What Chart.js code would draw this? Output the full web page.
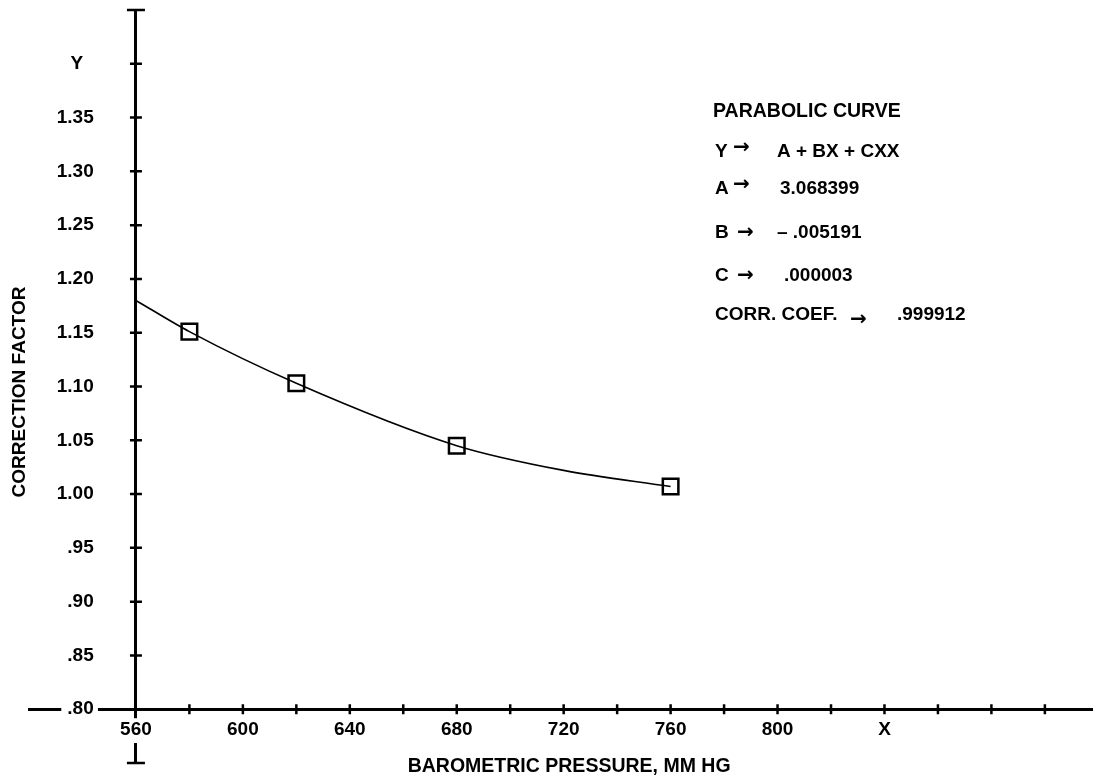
<!DOCTYPE html>
<html>
<head>
<meta charset="utf-8">
<script src="https://cdn.jsdelivr.net/npm/chart.js@4.4.1/dist/chart.umd.min.js"></script>
<style>
  html, body { margin: 0; padding: 0; background: #fff; overflow: hidden; }
  #wrap { width: 1093px; height: 777px; }
  canvas { display: block; }
</style>
</head>
<body>
<div id="wrap"><canvas id="chart" width="1093" height="777"></canvas></div>
<script>
// measured points (squares)
const pressure = [580, 620, 680, 760];
const factor = [1.151, 1.103, 1.045, 1.007];

// fitted curve
const curvePressure = [560, 580, 620, 680, 720, 760];
const curveFactor = [1.180, 1.151, 1.103, 1.045, 1.022, 1.007];

// axis ranges / ticks
const xMin = 520, xMax = 918, xStep = 20, xFirstTick = 560;
const yMin = 0.75, yMax = 1.45, yStep = 0.05;
const yAxisLabel = "CORRECTION FACTOR";
const xAxisLabel = "BAROMETRIC PRESSURE, MM HG";

// fit summary text
const fitKeys = ["Y", "A", "B", "C", "CORR. COEF."];
const fitValues = ["A + BX + CXX", "3.068399", "\u2013 .005191", ".000003", ".999912"];
const fitTitle = "PARABOLIC CURVE";

const FONT = '"Liberation Sans", Arial, sans-serif';
const GAP = "        "; // positioned y axis puts labels right on the line, push them left

function yLabel(v) {
  const c = Math.round(v * 100);
  if (c === 140) return "Y" + GAP + "  ";
  if (c < 80 || c > 135) return "";
  const s = (c / 100).toFixed(2);
  return (s.startsWith("0") ? s.slice(1) : s) + GAP;
}

function xLabel(v) {
  if (v < xFirstTick) return "";
  if (v === 840) return "X";
  if (v <= 800 && v % 40 === 0) return String(v);
  return "";
}

function noPadding(scale) {
  scale.paddingTop = 0;
  scale.paddingBottom = 0;
  scale.paddingLeft = 0;
  scale.paddingRight = 0;
}

// cross ticks, caps, y title and the fit text
const extras = {
  id: "extras",
  afterDraw(chart) {
    const ctx = chart.ctx;
    const xs = chart.scales.x, ys = chart.scales.y;
    const x0 = xs.getPixelForValue(xFirstTick);
    const y0 = ys.getPixelForValue(0.8);
    ctx.save();
    ctx.strokeStyle = "#000";
    ctx.lineWidth = 2.5;
    ctx.beginPath();
    ys.ticks.forEach(t => {
      const c = Math.round(t.value * 100);
      const py = ys.getPixelForValue(t.value);
      if (c === 75 || c === 145) {
        ctx.moveTo(x0 - 9, py); ctx.lineTo(x0 + 9, py);
      } else if (c !== 80) {
        ctx.moveTo(x0 - 6, py); ctx.lineTo(x0 + 6, py);
      }
    });
    xs.ticks.forEach(t => {
      if (t.value <= xFirstTick) return;
      const px = xs.getPixelForValue(t.value);
      ctx.moveTo(px, y0 - 5); ctx.lineTo(px, y0 + 5);
    });
    ctx.stroke();

    ctx.fillStyle = "#000";
    ctx.font = "bold 19px " + FONT;
    ctx.textBaseline = "middle";
    ctx.textAlign = "center";
    ctx.save();
    ctx.translate(20, 392);
    ctx.rotate(-Math.PI / 2);
    ctx.fillText(yAxisLabel, 0, 0);
    ctx.restore();

    ctx.textAlign = "left";
    ctx.font = "bold 19.5px " + FONT;
    ctx.fillText(fitTitle, 713, 112);
    const rowY = [152, 189, 233, 276, 315];
    const valX = [777, 780, 777, 784, 897];
    const arrowX = [733, 733, 737, 737, 850];
    const arrowDy = [-4, -4, 0, 0, 5];
    fitKeys.forEach((k, i) => {
      ctx.font = "bold 19px " + FONT;
      ctx.fillText(k, 715, rowY[i]);
      ctx.fillText(fitValues[i], valX[i], rowY[i]);
      ctx.font = "bold 20px 'DejaVu Sans'";
      ctx.fillText("\u2192", arrowX[i], rowY[i] + arrowDy[i]);
    });
    ctx.restore();
  }
};

new Chart(document.getElementById("chart"), {
  type: "line",
  data: {
    datasets: [
      {
        label: "fit",
        data: curvePressure.map((x, i) => ({ x: x, y: curveFactor[i] })),
        borderColor: "#000",
        borderWidth: 1.6,
        pointRadius: 0,
        cubicInterpolationMode: "monotone",
        fill: false
      },
      {
        label: "measured",
        data: pressure.map((x, i) => ({ x: x, y: factor[i] })),
        showLine: false,
        pointStyle: "rect",
        pointRadius: 11,
        pointBorderWidth: 2.5,
        pointBorderColor: "#000",
        pointBackgroundColor: "rgba(0,0,0,0)"
      }
    ]
  },
  options: {
    responsive: false,
    animation: false,
    devicePixelRatio: 1,
    layout: { autoPadding: false, padding: { left: 29, right: 0, top: 10, bottom: 14 } },
    plugins: { legend: { display: false }, tooltip: { enabled: false } },
    scales: {
      x: {
        type: "linear",
        min: xMin,
        max: xMax,
        position: { y: 0.8 },
        afterFit: noPadding,
        grid: { display: true, drawOnChartArea: false, drawTicks: false },
        border: { display: true, color: "#000", width: 3 },
        ticks: {
          z: 1,
          stepSize: xStep,
          includeBounds: false,
          autoSkip: false,
          maxRotation: 0,
          padding: 9,
          color: "#000",
          font: { family: FONT, size: 19, weight: "bold" },
          showLabelBackdrop: ctx => ctx.tick.value === xFirstTick,
          backdropColor: "#fff",
          backdropPadding: { left: -12, right: -12, top: 0, bottom: 2 },
          callback: v => xLabel(v)
        },
        title: {
          display: true,
          text: "   " + xAxisLabel,
          color: "#000",
          padding: { top: 5, bottom: 0 },
          font: { family: FONT, size: 19.5, weight: "bold" }
        }
      },
      y: {
        type: "linear",
        min: yMin,
        max: yMax,
        position: { x: xFirstTick },
        afterFit: noPadding,
        grid: { display: true, drawOnChartArea: false, drawTicks: false },
        border: { display: true, color: "#000", width: 3 },
        ticks: {
          z: 1,
          stepSize: yStep,
          includeBounds: false,
          autoSkip: false,
          padding: 0,
          color: "#000",
          font: { family: FONT, size: 19, weight: "bold" },
          showLabelBackdrop: ctx => Math.round(ctx.tick.value * 100) === 80,
          backdropColor: "#fff",
          backdropPadding: { left: 6, right: -38, top: -4, bottom: -4 },
          callback: v => yLabel(v)
        }
      }
    }
  },
  plugins: [extras]
});
</script>
</body>
</html>
